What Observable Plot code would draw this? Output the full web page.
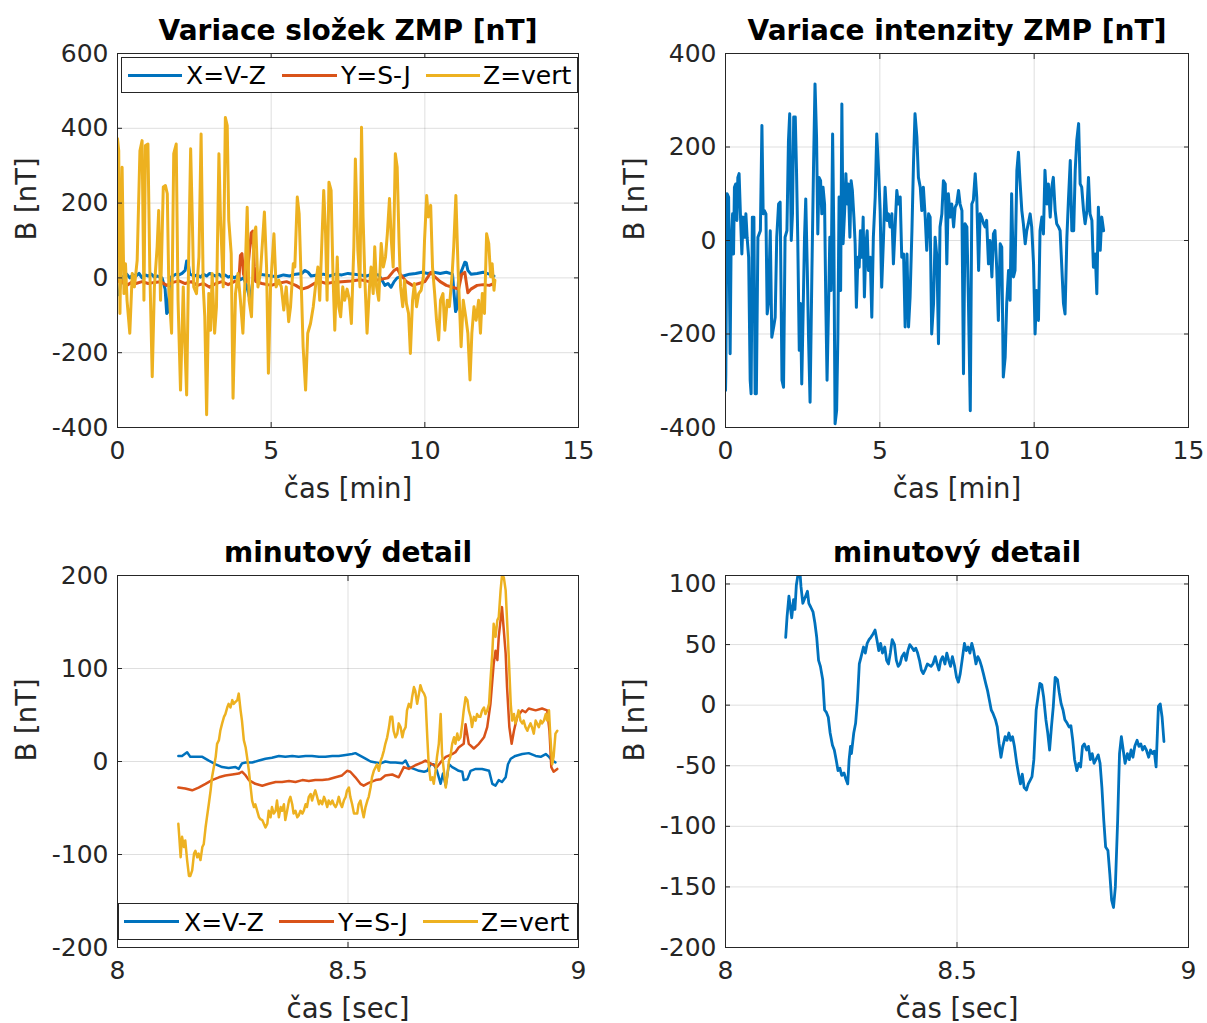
<!DOCTYPE html>
<html><head><meta charset="utf-8">
<script src="https://cdn.jsdelivr.net/npm/d3@7"></script>
<script src="https://cdn.jsdelivr.net/npm/@observablehq/plot@0.6"></script>
<style>
body{margin:0;background:#fff;}
#root{position:relative;width:1207px;height:1023px;font-family:"DejaVu Sans";overflow:hidden;background:#fff;}
.panel{position:absolute;}
.legend{position:absolute;border:1px solid #262626;background:#fff;box-sizing:border-box;}
.legend .ln{position:absolute;height:3px;top:50%;margin-top:-1.5px;}
.legend .tx{position:absolute;top:50%;transform:translateY(-50%);font-size:25px;line-height:1;color:#000;white-space:nowrap;}
</style></head><body><div id="root"></div>
<script>
// ---------- tick labels ----------
const ticksMin = [0, 5, 10, 15];
const ticksSec = [8, 8.5, 9];
const ticksTL = [-400, -200, 0, 200, 400, 600];
const ticksTR = [-400, -200, 0, 200, 400];
const ticksBL = [-200, -100, 0, 100, 200];
const ticksBR = [-200, -150, -100, -50, 0, 50, 100];
const seriesNames = ["X=V-Z", "Y=S-J", "Z=vert"];
const seriesColors = ["#0072BD", "#D95319", "#EDB120"];

// ---------- top-left: components, time in minutes ----------
const tlX = [[0.00,-40],[0.05,-45],[0.10,-10],[0.2,5],[0.3,10],[0.4,0],[0.5,8],[0.6,5],[0.7,12],[0.8,0],[0.9,8],[1.0,5],[1.1,10],[1.2,2],[1.3,5],[1.45,0],[1.55,-30],[1.6,-95],[1.65,-90],[1.7,0],[1.8,5],[1.9,10],[2.0,8],[2.1,12],[2.2,20],[2.25,45],[2.3,40],[2.35,10],[2.5,5],[2.6,8],[2.7,2],[2.8,10],[2.9,5],[3.0,12],[3.1,8],[3.2,5],[3.3,10],[3.4,3],[3.5,8],[3.6,2],[3.7,5],[3.8,0],[3.9,5],[4.0,-5],[4.1,0],[4.2,-20],[4.3,-55],[4.35,-40],[4.4,-10],[4.5,5],[4.6,10],[4.8,8],[5.0,5],[5.2,3],[5.4,8],[5.6,5],[5.8,10],[6.0,12],[6.1,20],[6.2,15],[6.3,5],[6.5,8],[6.7,10],[6.9,5],[7.1,10],[7.3,8],[7.5,12],[7.7,10],[7.9,8],[8.1,5],[8.3,10],[8.5,8],[8.6,-5],[8.7,-20],[8.8,-15],[8.9,-25],[9.0,-10],[9.1,0],[9.3,5],[9.5,10],[9.7,12],[9.9,15],[10.1,12],[10.3,15],[10.5,12],[10.7,15],[10.9,10],[10.95,-40],[11.0,-90],[11.05,-80],[11.1,0],[11.2,20],[11.3,42],[11.35,40],[11.4,20],[11.5,10],[11.7,12],[11.9,15],[12.1,10],[12.25,5]];
const tlY = [[0.00,-10],[0.1,-5],[0.2,-15],[0.3,-20],[0.5,-10],[0.6,-15],[0.8,-10],[1.0,-15],[1.2,-12],[1.4,-10],[1.6,-20],[1.8,-12],[2.0,-8],[2.2,-15],[2.4,-10],[2.6,-20],[2.8,-15],[3.0,-25],[3.2,-15],[3.4,-10],[3.6,-18],[3.8,-10],[3.95,-5],[4.0,60],[4.05,65],[4.1,10],[4.2,-10],[4.35,120],[4.4,125],[4.45,30],[4.5,-10],[4.7,-15],[5.0,-20],[5.2,-15],[5.5,-10],[5.8,-20],[6.0,-30],[6.2,-25],[6.4,-15],[6.6,-10],[6.8,-15],[7.0,-12],[7.3,-10],[7.6,-8],[7.9,-5],[8.2,-10],[8.5,-5],[8.8,0],[9.0,20],[9.1,25],[9.2,10],[9.4,-10],[9.6,-20],[9.8,-15],[10.0,-10],[10.2,15],[10.3,5],[10.5,-10],[10.7,-20],[10.9,-25],[11.1,-30],[11.2,10],[11.3,15],[11.4,-40],[11.5,-30],[11.7,-20],[11.9,-18],[12.1,-20],[12.25,-15]];
const tlZ = [[0.00,372],[0.04,340],[0.08,-95],[0.15,296],[0.21,-42],[0.26,38],[0.31,-60],[0.40,-148],[0.48,12],[0.55,-24],[0.64,47],[0.73,340],[0.80,367],[0.86,-60],[0.91,354],[0.99,358],[1.05,29],[1.13,-264],[1.20,-24],[1.29,83],[1.34,180],[1.40,-60],[1.49,243],[1.56,247],[1.62,225],[1.67,-24],[1.76,-148],[1.83,332],[1.91,358],[1.97,-60],[2.05,-300],[2.14,-24],[2.18,-148],[2.25,-313],[2.32,74],[2.38,345],[2.43,172],[2.48,-24],[2.57,-42],[2.65,56],[2.72,385],[2.79,-24],[2.84,-104],[2.90,-366],[2.97,-42],[3.03,-140],[3.08,12],[3.16,-148],[3.22,-77],[3.30,332],[3.35,163],[3.44,-24],[3.51,429],[3.57,407],[3.62,154],[3.70,65],[3.76,-322],[3.84,-42],[3.92,12],[4.00,-60],[4.08,-148],[4.14,-24],[4.22,189],[4.28,-60],[4.36,-104],[4.44,118],[4.50,136],[4.57,-24],[4.65,12],[4.72,100],[4.78,176],[4.85,29],[4.91,-255],[4.98,-24],[5.09,118],[5.16,-24],[5.25,-6],[5.33,-24],[5.41,-86],[5.49,-24],[5.57,-117],[5.63,-77],[5.72,38],[5.77,29],[5.85,216],[5.91,172],[6.04,-184],[6.12,-300],[6.19,-148],[6.28,-122],[6.37,-77],[6.44,-24],[6.52,29],[6.58,-60],[6.64,74],[6.71,234],[6.77,118],[6.82,-60],[6.88,256],[6.95,234],[7.01,12],[7.07,-140],[7.15,56],[7.20,-77],[7.26,-104],[7.33,-24],[7.39,-60],[7.47,-30],[7.55,-60],[7.61,-122],[7.69,83],[7.74,318],[7.82,74],[7.89,-24],[7.94,403],[7.99,163],[8.05,-6],[8.12,-148],[8.20,-24],[8.25,29],[8.32,-42],[8.37,83],[8.43,-24],[8.50,-60],[8.58,92],[8.65,29],[8.72,56],[8.78,118],[8.85,212],[8.91,100],[8.97,29],[9.04,332],[9.10,296],[9.16,100],[9.21,-24],[9.28,-77],[9.34,-6],[9.40,-68],[9.47,-95],[9.53,-202],[9.60,-60],[9.66,-15],[9.73,-77],[9.80,-42],[9.88,-33],[9.95,3],[9.99,100],[10.06,220],[10.11,163],[10.19,194],[10.25,29],[10.32,-42],[10.38,-113],[10.45,-166],[10.51,-60],[10.59,-42],[10.65,-140],[10.73,-60],[10.80,-77],[10.89,12],[10.94,83],[11.01,220],[11.08,29],[11.13,-77],[11.18,-184],[11.25,-60],[11.33,-104],[11.40,-148],[11.47,-273],[11.53,-148],[11.60,-77],[11.67,-113],[11.75,-60],[11.81,-148],[11.87,-42],[11.94,-95],[12.01,118],[12.08,92],[12.14,3],[12.19,38],[12.25,-33],[12.28,-6]];

// ---------- top-right: intensity, time in minutes ----------
const trF = [[0.00,-321],[0.01,-285],[0.05,100],[0.10,93],[0.15,-242],[0.18,-21],[0.23,57],[0.26,-29],[0.29,114],[0.33,121],[0.37,43],[0.40,135],[0.44,143],[0.49,43],[0.53,-29],[0.57,50],[0.62,7],[0.66,57],[0.70,7],[0.75,-36],[0.80,-299],[0.83,-328],[0.87,50],[0.92,50],[0.96,-328],[1.00,-328],[1.05,7],[1.09,14],[1.13,21],[1.18,246],[1.22,57],[1.26,64],[1.31,57],[1.35,-157],[1.39,-135],[1.45,21],[1.50,-207],[1.56,-185],[1.61,-164],[1.66,7],[1.72,78],[1.77,82],[1.83,-299],[1.88,-314],[1.93,7],[1.99,21],[2.04,214],[2.08,271],[2.13,0],[2.17,57],[2.21,264],[2.26,264],[2.30,150],[2.34,7],[2.39,-235],[2.43,-135],[2.47,-307],[2.52,-135],[2.56,7],[2.60,89],[2.65,-64],[2.69,-207],[2.74,-346],[2.80,-64],[2.85,150],[2.90,335],[2.95,221],[2.99,14],[3.03,135],[3.08,128],[3.12,57],[3.16,114],[3.21,78],[3.25,-135],[3.29,-299],[3.34,-135],[3.38,7],[3.42,-107],[3.47,228],[3.51,7],[3.55,-392],[3.60,-364],[3.64,-207],[3.68,93],[3.73,-107],[3.77,292],[3.81,-7],[3.86,64],[3.90,143],[3.94,78],[3.98,121],[4.03,7],[4.07,128],[4.11,107],[4.16,50],[4.20,-7],[4.24,-143],[4.29,-36],[4.33,-57],[4.37,21],[4.42,-36],[4.46,50],[4.50,-121],[4.55,-7],[4.59,21],[4.63,-64],[4.69,-36],[4.74,-164],[4.79,7],[4.85,93],[4.90,228],[4.96,150],[5.01,64],[5.06,-100],[5.12,7],[5.17,114],[5.23,43],[5.28,57],[5.33,29],[5.39,57],[5.44,-50],[5.50,36],[5.55,107],[5.60,78],[5.66,93],[5.71,-36],[5.77,-29],[5.82,-185],[5.88,-29],[5.93,-185],[5.98,-121],[6.04,21],[6.09,164],[6.14,271],[6.20,221],[6.25,135],[6.31,114],[6.36,64],[6.41,114],[6.47,50],[6.52,-21],[6.58,57],[6.63,50],[6.68,-200],[6.74,-135],[6.79,7],[6.85,-36],[6.90,-221],[6.95,29],[7.01,57],[7.06,128],[7.12,121],[7.17,-50],[7.22,100],[7.28,50],[7.33,78],[7.39,29],[7.44,71],[7.49,78],[7.55,107],[7.60,78],[7.66,64],[7.71,-285],[7.76,36],[7.82,29],[7.87,-128],[7.93,-364],[7.98,78],[8.03,86],[8.09,143],[8.14,93],[8.20,-64],[8.25,57],[8.30,50],[8.36,36],[8.41,29],[8.46,43],[8.52,-50],[8.57,0],[8.63,-78],[8.68,14],[8.73,21],[8.79,-64],[8.84,-171],[8.90,-7],[8.95,-14],[9.00,-292],[9.06,-250],[9.11,-135],[9.17,-64],[9.22,-128],[9.27,100],[9.33,-78],[9.38,-64],[9.44,150],[9.49,189],[9.54,128],[9.60,64],[9.65,36],[9.71,-7],[9.76,21],[9.81,36],[9.87,57],[9.92,29],[9.98,-50],[10.03,-200],[10.08,-107],[10.14,-171],[10.19,21],[10.25,50],[10.30,14],[10.35,150],[10.41,78],[10.46,121],[10.52,50],[10.57,114],[10.62,135],[10.68,64],[10.73,36],[10.79,29],[10.84,21],[10.90,-64],[10.95,-135],[11.00,-157],[11.06,7],[11.11,86],[11.17,171],[11.22,21],[11.28,21],[11.33,150],[11.38,214],[11.44,250],[11.49,121],[11.54,114],[11.60,64],[11.65,36],[11.71,64],[11.76,135],[11.81,57],[11.87,43],[11.92,-57],[11.98,-29],[12.03,-114],[12.08,71],[12.14,-21],[12.19,50],[12.25,21]];

// ---------- bottom-left: components, detail ----------
const blX = [[8.132,6],[8.140,6],[8.151,10],[8.158,5],[8.169,5],[8.184,5],[8.198,1],[8.213,-3],[8.227,-6],[8.241,-7],[8.256,-6],[8.263,-8],[8.270,-2],[8.278,-1],[8.292,-1],[8.307,1],[8.321,3],[8.335,4],[8.350,6],[8.364,5],[8.379,6],[8.393,5],[8.408,6],[8.422,6],[8.437,5],[8.451,5],[8.466,6],[8.480,6],[8.495,7],[8.509,8],[8.516,9],[8.527,6],[8.538,3],[8.549,0],[8.560,-1],[8.571,-2],[8.581,0],[8.592,-1],[8.603,-1],[8.618,-2],[8.625,1],[8.632,-6],[8.643,-8],[8.654,-10],[8.665,-11],[8.672,-10],[8.679,-3],[8.686,-3],[8.693,-10],[8.701,-24],[8.706,-13],[8.712,-26],[8.719,-3],[8.726,-6],[8.733,-8],[8.740,-10],[8.748,-11],[8.751,-20],[8.759,-19],[8.766,-10],[8.777,-8],[8.791,-8],[8.806,-10],[8.813,-24],[8.820,-26],[8.827,-20],[8.834,-22],[8.842,-17],[8.847,-3],[8.853,3],[8.863,6],[8.878,8],[8.892,9],[8.907,6],[8.918,5],[8.929,8],[8.936,5],[8.943,1],[8.950,-1]];
const blY = [[8.132,-28],[8.147,-29],[8.162,-31],[8.176,-28],[8.191,-24],[8.205,-20],[8.220,-17],[8.234,-15],[8.249,-14],[8.263,-13],[8.270,-11],[8.278,-15],[8.285,-20],[8.299,-24],[8.314,-26],[8.328,-24],[8.343,-22],[8.357,-22],[8.372,-21],[8.386,-22],[8.401,-20],[8.415,-21],[8.429,-20],[8.444,-20],[8.458,-19],[8.473,-17],[8.487,-15],[8.498,-10],[8.505,-11],[8.516,-17],[8.527,-24],[8.534,-26],[8.545,-23],[8.560,-20],[8.571,-19],[8.581,-15],[8.596,-14],[8.610,-17],[8.621,-6],[8.632,-8],[8.646,-4],[8.661,-1],[8.668,1],[8.675,-1],[8.683,-3],[8.693,-6],[8.704,1],[8.712,5],[8.726,8],[8.733,10],[8.740,15],[8.751,19],[8.755,40],[8.762,19],[8.773,14],[8.784,19],[8.795,26],[8.802,37],[8.809,62],[8.816,105],[8.820,119],[8.824,109],[8.827,134],[8.834,166],[8.838,141],[8.842,116],[8.845,80],[8.850,37],[8.855,19],[8.860,33],[8.867,48],[8.878,55],[8.885,53],[8.892,57],[8.907,55],[8.921,57],[8.932,55],[8.937,33],[8.941,-6],[8.946,-11],[8.954,-8]];
const blZ = [[8.132,-67],[8.134,-81],[8.137,-103],[8.140,-81],[8.144,-92],[8.147,-85],[8.151,-106],[8.155,-123],[8.158,-123],[8.162,-117],[8.166,-99],[8.169,-96],[8.173,-103],[8.176,-99],[8.180,-106],[8.184,-92],[8.187,-89],[8.191,-71],[8.194,-60],[8.198,-46],[8.202,-31],[8.205,-17],[8.209,-6],[8.213,5],[8.216,19],[8.220,23],[8.223,33],[8.227,41],[8.231,48],[8.234,51],[8.238,58],[8.241,62],[8.245,58],[8.249,66],[8.252,62],[8.256,64],[8.260,66],[8.263,73],[8.267,55],[8.270,44],[8.274,23],[8.278,15],[8.281,5],[8.285,-10],[8.288,-24],[8.292,-42],[8.296,-49],[8.299,-46],[8.303,-53],[8.307,-60],[8.310,-62],[8.314,-63],[8.321,-71],[8.325,-67],[8.328,-53],[8.332,-60],[8.335,-49],[8.339,-56],[8.343,-53],[8.346,-42],[8.350,-60],[8.354,-49],[8.357,-53],[8.361,-46],[8.364,-63],[8.368,-53],[8.372,-42],[8.375,-38],[8.379,-46],[8.382,-56],[8.386,-53],[8.390,-60],[8.393,-58],[8.397,-53],[8.401,-56],[8.404,-53],[8.408,-46],[8.411,-49],[8.415,-38],[8.419,-35],[8.422,-42],[8.426,-35],[8.429,-31],[8.433,-38],[8.437,-46],[8.440,-42],[8.444,-46],[8.448,-38],[8.451,-42],[8.455,-49],[8.458,-42],[8.462,-46],[8.466,-42],[8.469,-46],[8.473,-49],[8.476,-46],[8.480,-38],[8.484,-46],[8.487,-49],[8.491,-42],[8.495,-38],[8.498,-31],[8.502,-28],[8.505,-38],[8.509,-46],[8.513,-56],[8.520,-56],[8.523,-46],[8.527,-42],[8.531,-53],[8.534,-60],[8.538,-49],[8.542,-42],[8.545,-38],[8.549,-28],[8.552,-17],[8.556,-10],[8.560,-6],[8.563,-3],[8.567,-10],[8.571,1],[8.574,5],[8.578,12],[8.581,19],[8.585,26],[8.589,37],[8.592,48],[8.596,48],[8.599,33],[8.603,26],[8.607,30],[8.610,41],[8.614,37],[8.618,26],[8.621,33],[8.625,37],[8.628,55],[8.632,62],[8.636,58],[8.639,69],[8.643,80],[8.646,76],[8.650,62],[8.654,73],[8.657,82],[8.661,76],[8.665,73],[8.668,69],[8.672,26],[8.675,-3],[8.679,-20],[8.683,-17],[8.686,-24],[8.690,-10],[8.693,5],[8.697,19],[8.701,51],[8.704,8],[8.708,-10],[8.712,-28],[8.715,-17],[8.719,1],[8.722,5],[8.726,19],[8.730,26],[8.733,19],[8.737,30],[8.740,23],[8.744,26],[8.748,41],[8.751,55],[8.755,69],[8.759,66],[8.762,55],[8.766,48],[8.769,37],[8.773,48],[8.777,44],[8.780,51],[8.784,48],[8.787,48],[8.791,55],[8.795,58],[8.798,51],[8.802,55],[8.806,62],[8.809,87],[8.813,116],[8.816,148],[8.820,134],[8.824,152],[8.827,155],[8.831,184],[8.834,200],[8.838,198],[8.842,184],[8.845,152],[8.849,109],[8.853,62],[8.856,44],[8.860,51],[8.863,41],[8.867,48],[8.870,55],[8.874,44],[8.878,41],[8.881,44],[8.885,37],[8.889,33],[8.892,37],[8.896,41],[8.899,37],[8.903,30],[8.907,44],[8.910,41],[8.914,37],[8.918,44],[8.921,41],[8.925,44],[8.929,51],[8.932,44],[8.936,55],[8.939,26],[8.943,-3],[8.946,5],[8.950,30],[8.954,33]];

// ---------- bottom-right: intensity, detail ----------
const brF = [[8.130,56],[8.133,73],[8.137,90],[8.140,81],[8.143,72],[8.147,87],[8.150,79],[8.153,99],[8.157,109],[8.161,109],[8.163,98],[8.167,84],[8.170,87],[8.174,91],[8.177,94],[8.180,84],[8.184,81],[8.189,77],[8.193,68],[8.197,56],[8.201,37],[8.205,32],[8.210,21],[8.214,-4],[8.218,-6],[8.222,-10],[8.226,-23],[8.231,-33],[8.235,-37],[8.239,-45],[8.243,-54],[8.247,-52],[8.251,-58],[8.256,-56],[8.260,-61],[8.264,-65],[8.267,-45],[8.270,-34],[8.272,-40],[8.277,-23],[8.281,-15],[8.285,4],[8.289,34],[8.293,40],[8.298,48],[8.302,43],[8.306,51],[8.310,54],[8.314,56],[8.319,59],[8.323,62],[8.327,54],[8.331,45],[8.335,51],[8.339,43],[8.344,48],[8.348,37],[8.352,34],[8.356,43],[8.360,54],[8.365,50],[8.369,37],[8.373,32],[8.377,34],[8.381,40],[8.386,43],[8.390,37],[8.394,45],[8.398,50],[8.402,48],[8.407,45],[8.411,47],[8.415,43],[8.419,37],[8.423,29],[8.427,26],[8.432,30],[8.436,34],[8.440,33],[8.444,32],[8.448,34],[8.453,40],[8.457,34],[8.461,29],[8.465,37],[8.469,40],[8.474,34],[8.478,43],[8.482,37],[8.486,32],[8.490,40],[8.495,32],[8.499,23],[8.503,19],[8.507,26],[8.511,37],[8.516,51],[8.520,45],[8.524,48],[8.528,43],[8.532,51],[8.536,45],[8.541,34],[8.545,40],[8.549,37],[8.553,32],[8.557,26],[8.562,18],[8.566,12],[8.570,4],[8.574,-4],[8.578,-7],[8.583,-12],[8.587,-18],[8.591,-32],[8.595,-43],[8.599,-34],[8.604,-26],[8.608,-29],[8.612,-23],[8.616,-29],[8.620,-26],[8.624,-34],[8.629,-48],[8.633,-57],[8.637,-65],[8.641,-57],[8.645,-68],[8.650,-70],[8.654,-65],[8.658,-62],[8.662,-59],[8.666,-45],[8.671,-4],[8.675,7],[8.679,18],[8.683,17],[8.687,7],[8.692,-12],[8.696,-23],[8.700,-37],[8.704,-18],[8.708,-1],[8.712,23],[8.717,21],[8.721,10],[8.725,1],[8.729,-4],[8.733,-12],[8.738,-15],[8.742,-18],[8.746,-17],[8.750,-29],[8.754,-45],[8.759,-54],[8.763,-48],[8.767,-51],[8.771,-34],[8.775,-32],[8.780,-37],[8.784,-34],[8.788,-45],[8.792,-40],[8.796,-48],[8.800,-45],[8.805,-41],[8.809,-48],[8.813,-68],[8.817,-95],[8.821,-117],[8.826,-120],[8.830,-139],[8.834,-161],[8.838,-167],[8.842,-150],[8.847,-95],[8.851,-40],[8.855,-26],[8.859,-37],[8.863,-48],[8.868,-40],[8.872,-45],[8.876,-37],[8.880,-43],[8.884,-34],[8.889,-29],[8.893,-34],[8.897,-32],[8.901,-37],[8.905,-34],[8.909,-37],[8.914,-43],[8.918,-37],[8.922,-40],[8.926,-38],[8.930,-51],[8.935,-1],[8.939,1],[8.943,-10],[8.947,-30]];

const toRows = arr => arr.map(([t, v]) => ({t, v}));
const fmt = d => String(d);
const INK = "#262626";

function panel(o) {
  const marks = [
    Plot.gridX({ticks: o.xTicks, stroke: INK, strokeOpacity: 0.15}),
    Plot.gridY({ticks: o.yTicks, stroke: INK, strokeOpacity: 0.15}),
    ...o.series.map(s => Plot.line(toRows(s.data), {x: "t", y: "v", stroke: s.color, strokeWidth: o.sw, clip: true})),
    Plot.frame({stroke: INK, strokeWidth: 1}),
    Plot.axisX({ticks: o.xTicks, anchor: "bottom", tickSize: 5, dy: -5, tickPadding: 14, tickFormat: fmt, label: null}),
    Plot.axisX({ticks: o.xTicks, anchor: "top", tickSize: 5, dy: 5, tickFormat: () => "", label: null}),
    Plot.axisY({ticks: o.yTicks, anchor: "left", tickSize: 5, dx: 5, tickPadding: 9, tickFormat: fmt, label: null}),
    Plot.axisY({ticks: o.yTicks, anchor: "right", tickSize: 5, dx: -5, tickFormat: () => "", label: null}),
    Plot.text([o.title], {frameAnchor: "top", dy: -33, fontWeight: "bold", fontSize: 28, fill: "#000"}),
    Plot.text([o.xLabel], {frameAnchor: "bottom", dy: 70, fontSize: 27.5, fill: INK}),
    Plot.text(["B [nT]"], {frameAnchor: "left", dx: -90, rotate: -90, fontSize: 27.5, fill: INK})
  ];
  const svg = Plot.plot({
    width: o.width, height: o.height,
    marginLeft: o.mL, marginRight: o.mR, marginTop: o.mT, marginBottom: o.mB,
    x: {domain: o.xDomain, axis: null},
    y: {domain: o.yDomain, axis: null},
    style: {fontFamily: "DejaVu Sans", fontSize: "25px", color: INK, background: "white", overflow: "visible"},
    marks
  });
  const wrap = document.createElement("div");
  wrap.className = "panel";
  wrap.style.left = o.left + "px";
  wrap.style.top = o.top + "px";
  wrap.appendChild(svg);
  document.getElementById("root").appendChild(wrap);
}

function legend(box, linePos, textPos) {
  const d = document.createElement("div");
  d.className = "legend";
  Object.assign(d.style, {left: box[0] + "px", top: box[1] + "px", width: box[2] + "px", height: box[3] + "px"});
  seriesNames.forEach((name, i) => {
    const ln = document.createElement("div");
    ln.className = "ln";
    Object.assign(ln.style, {left: linePos[i][0] + "px", width: linePos[i][1] + "px", background: seriesColors[i]});
    const tx = document.createElement("div");
    tx.className = "tx";
    tx.style.left = textPos[i] + "px";
    tx.textContent = name;
    d.appendChild(ln); d.appendChild(tx);
  });
  document.getElementById("root").appendChild(d);
}

const threeSeries = (a, b, c) => [
  {data: a, color: seriesColors[0]},
  {data: b, color: seriesColors[1]},
  {data: c, color: seriesColors[2]}
];

panel({left: 0, top: 0, width: 603, height: 511, mL: 117, mR: 25, mT: 53, mB: 84,
  xDomain: [0, 15], yDomain: [-400, 600], xTicks: ticksMin, yTicks: ticksTL,
  title: "Variace složek ZMP [nT]", xLabel: "čas [min]", sw: 3,
  series: threeSeries(tlX, tlY, tlZ)});
panel({left: 604, top: 0, width: 603, height: 511, mL: 121, mR: 19, mT: 53, mB: 84,
  xDomain: [0, 15], yDomain: [-400, 400], xTicks: ticksMin, yTicks: ticksTR,
  title: "Variace intenzity ZMP [nT]", xLabel: "čas [min]", sw: 3,
  series: [{data: trF, color: seriesColors[0]}]});
panel({left: 0, top: 512, width: 603, height: 511, mL: 117, mR: 25, mT: 63, mB: 76,
  xDomain: [8, 9], yDomain: [-200, 200], xTicks: ticksSec, yTicks: ticksBL,
  title: "minutový detail", xLabel: "čas [sec]", sw: 2.5,
  series: threeSeries(blX, blY, blZ)});
panel({left: 604, top: 512, width: 603, height: 511, mL: 121, mR: 19, mT: 63, mB: 76,
  xDomain: [8, 9], yDomain: [-200, 107], xTicks: ticksSec, yTicks: ticksBR,
  title: "minutový detail", xLabel: "čas [sec]", sw: 2.8,
  series: [{data: brF, color: seriesColors[0]}]});

legend([121, 57, 457, 36], [[6, 54], [160, 55], [304, 54]], [64, 219, 361]);
legend([118, 903, 460, 37], [[5, 55], [160, 55], [304, 55]], [65, 219, 362]);
</script></body></html>
